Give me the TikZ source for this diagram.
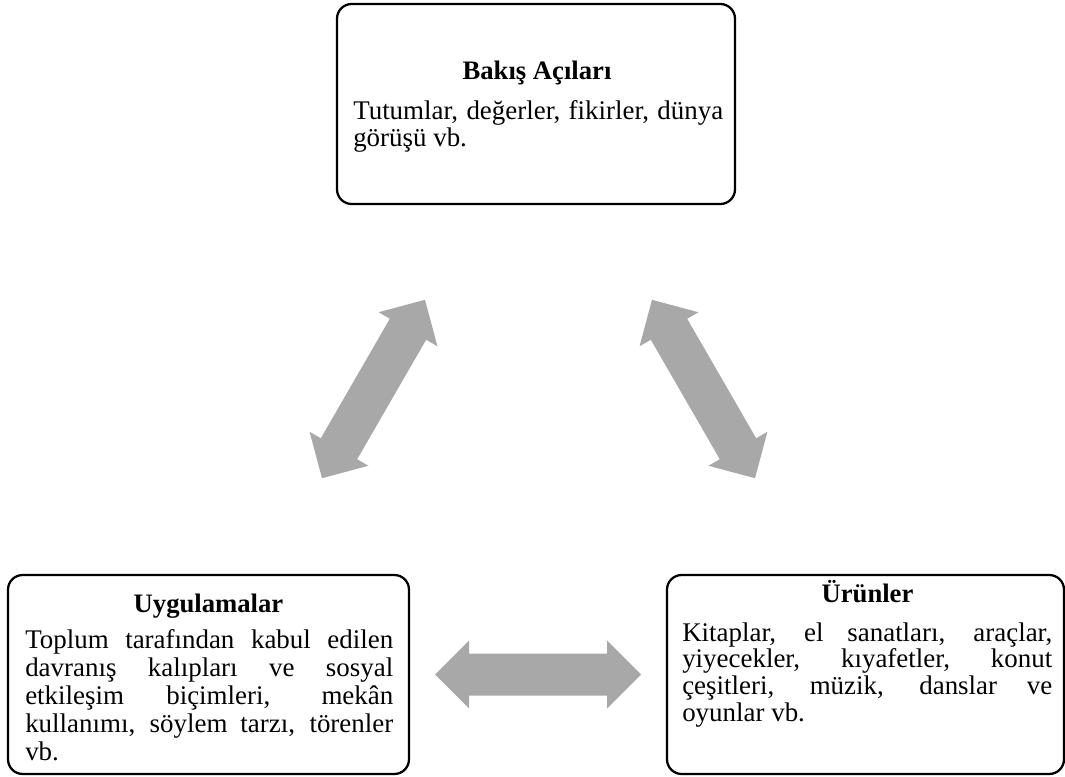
\documentclass[tikz,border=0pt]{standalone}
\usepackage{fontspec}
\setmainfont{Liberation Serif}
\definecolor{arrowgray}{RGB}{168,168,168}
\tikzset{
  box/.style={draw=black, line width=1.7pt, rounded corners=11pt, inner sep=0pt},
  boxtitle/.style={anchor=base, inner sep=0pt, font=\fontsize{20}{20.4}\selectfont\bfseries},
  boxbody/.style={anchor=base west, inner sep=0pt, align=justify,
    font=\fontsize{20.2}{20}\selectfont},
  dblarrow/.pic={
    \fill[arrowgray] (-103,0) -- (-69,34) -- (-69,21) -- (69,21) -- (69,34)
      -- (103,0) -- (69,-34) -- (69,-21) -- (-69,-21) -- (-69,-34) -- cycle;
  }
}
\begin{document}
\begin{tikzpicture}[x=0.75pt, y=-0.75pt]
\useasboundingbox (0,0) rectangle (1065,777);

% three boxes
\node[box, minimum width=398*0.75pt, minimum height=200*0.75pt] (views) at (536,104) {};
\node[box, minimum width=401*0.75pt, minimum height=199*0.75pt] (practices) at (208.5,674.5) {};
\node[box, minimum width=397*0.75pt, minimum height=199*0.75pt] (products) at (865.5,674.5) {};

% titles
\node[boxtitle] (viewsT) at (537,80) {Bakış Açıları};
\node[boxtitle] (practicesT) at (208.5,612) {Uygulamalar};
\node[boxtitle] (productsT) at (867.5,602) {Ürünler};

% body texts
\node[boxbody, text width=370*0.75pt] (viewsB) at (353,120)
  {Tutumlar, değerler, fikirler, dünya görüşü vb.};
\node[boxbody, text width=368*0.75pt, font=\fontsize{20.2}{21}\selectfont] (practicesB) at (25,648)
  {Toplum tarafından kabul edilen\linebreak
   davranış kalıpları ve sosyal\linebreak
   etkileşim biçimleri, mekân\linebreak
   kullanımı, söylem tarzı, törenler\linebreak
   vb.};
\node[boxbody, text width=370*0.75pt] (productsB) at (682,641)
  {Kitaplar, el sanatları, araçlar,\linebreak
   yiyecekler, kıyafetler, konut\linebreak
   çeşitleri, müzik, danslar ve\linebreak
   oyunlar vb.};

% two-way arrows between the boxes
\pic[rotate=60] (leftarrow) at (373.5,389) {dblarrow};
\pic[rotate=-60] (rightarrow) at (703.5,389) {dblarrow};
\pic (bottomarrow) at (538,674.5) {dblarrow};
\end{tikzpicture}
\end{document}
